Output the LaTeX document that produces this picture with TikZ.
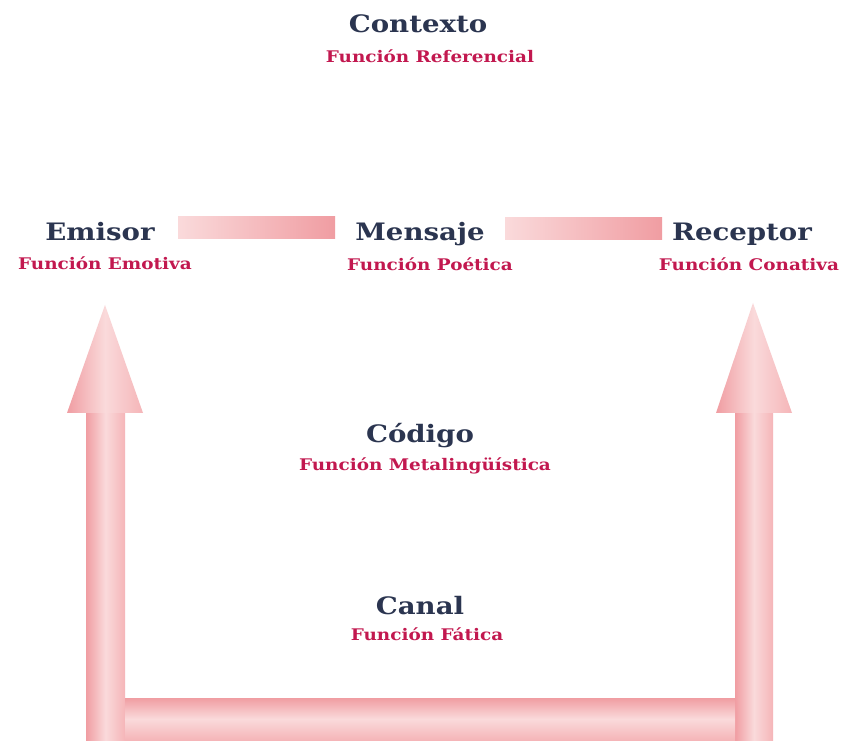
\documentclass[tikz,border=0pt]{standalone}
\usepackage{fontspec}
\newfontfamily\tfont{DejaVu Serif}[FakeStretch=1.15]
\definecolor{navy}{HTML}{2B3550}
\definecolor{crim}{HTML}{C2184F}
\definecolor{pinkD}{HTML}{F09DA2}
\definecolor{pinkM}{HTML}{F5B5B8}
\definecolor{pinkL}{HTML}{FADADB}
\tikzset{
  title/.style={font=\tfont\bfseries\fontsize{24}{28}\selectfont, text=navy, inner sep=0pt, anchor=base},
  sub/.style={font=\tfont\bfseries\fontsize{16}{19}\selectfont, text=crim, inner sep=0pt, anchor=base},
  vshade/.style={left color=pinkD, right color=pinkM, middle color=pinkL},
  hshade/.style={top color=pinkD, bottom color=pinkM, middle color=pinkL},
  barshade/.style={shading angle=70, left color=pinkL, right color=pinkD},
}
\begin{document}
\begin{tikzpicture}[x=1pt,y=1pt]
\useasboundingbox (0,0) rectangle (844,740);
\fill[white] (0,0) rectangle (844,740);
% text nodes (y measured from top)
\node[title] (contexto) at (418,740-33) {Contexto};
\node[sub] (ref) at (430,740-63) {Función Referencial};
\node[title] (emisor) at (100,740-241) {Emisor};
\node[sub] (emo) at (105,740-270) {Función Emotiva};
\node[title] (mensaje) at (420,740-241) {Mensaje};
\node[sub] (poe) at (430,740-271) {Función Poética};
\node[title] (receptor) at (742,740-241) {Receptor};
\node[sub] (con) at (749,740-271) {Función Conativa};
\node[title] (codigo) at (420,740-443) {Código};
\node[sub] (meta) at (425,740-471) {Función Metalingüística};
\node[title] (canal) at (420,740-614) {Canal};
\node[sub] (fat) at (427,740-640) {Función Fática};
% connector bars
\coordinate (b1a) at (178,740-217);
\coordinate (b1b) at (335,740-239);
\coordinate (b2a) at (505,740-218);
\coordinate (b2b) at (662,740-240);
\shade[barshade] (b1a) rectangle (b1b);
\shade[barshade] (b2a) rectangle (b2b);
% U arrow
\coordinate (ltip) at (105,740-305);
\coordinate (rtip) at (753,740-303);
\shade[vshade] (86,0) rectangle (125,740-413);
\shade[vshade] (735,0) rectangle (773,740-413);
\shade[vshade] (67,740-413) -- (ltip) -- (143,740-413) -- cycle;
\shade[vshade] (716,740-413) -- (rtip) -- (792,740-413) -- cycle;
\shade[hshade] (125,0) rectangle (735,740-698);
\end{tikzpicture}
\end{document}
